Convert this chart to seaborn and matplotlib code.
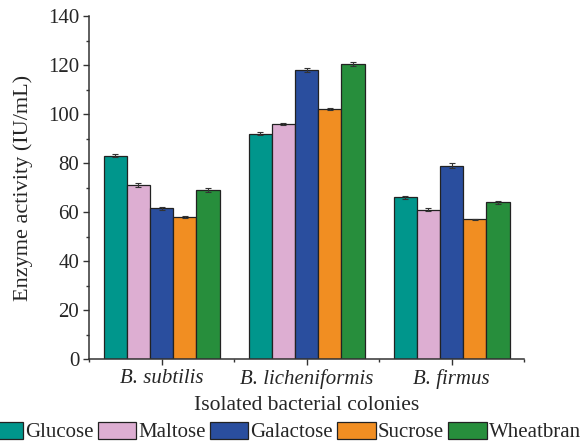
import matplotlib
matplotlib.use("Agg")
import matplotlib.pyplot as plt
import seaborn as sns
import pandas as pd
from matplotlib.ticker import MultipleLocator, FixedLocator
from matplotlib.patches import Patch

colonies = ["B. subtilis", "B. licheniformis", "B. firmus"]
sources = ["Glucose", "Maltose", "Galactose", "Sucrose", "Wheatbran"]
glucose = [83, 92, 66]
maltose = [71, 96, 61]
galactose = [61.5, 118, 79]
sucrose = [58, 102, 57]
wheatbran = [69, 120.5, 64]
err_glucose = [0.6, 0.5, 0.6]
err_maltose = [0.8, 0.5, 0.5]
err_galactose = [0.5, 0.8, 0.9]
err_sucrose = [0.6, 0.5, 0.3]
err_wheatbran = [0.9, 0.8, 0.6]
colors = ["#00968c", "#ddaed2", "#2a4e9e", "#f18e22", "#278e3c"]

vals = [glucose, maltose, galactose, sucrose, wheatbran]
errs = [err_glucose, err_maltose, err_galactose, err_sucrose, err_wheatbran]
rows = []
for s, v, e in zip(sources, vals, errs):
    for c, vi, ei in zip(colonies, v, e):
        rows.append({"colony": c, "source": s, "value": vi, "err": ei})
df = pd.DataFrame(rows)

sns.set_style("ticks")
plt.rcParams["font.family"] = ["Liberation Serif", "DejaVu Serif"]

fig = plt.figure(figsize=(5.81, 4.45), dpi=100)
ax = fig.add_axes([0.1532, 0.193, 0.7487, 0.771])
sns.barplot(data=df, x="colony", y="value", hue="source", order=colonies,
            hue_order=sources, palette=colors, errorbar=None, width=0.8,
            edgecolor="#222222", linewidth=0.9, saturation=1, ax=ax, legend=False)

# error bars at bar centers
for i, s in enumerate(sources):
    cont = ax.containers[i]
    for j, bar in enumerate(cont):
        x = bar.get_x() + bar.get_width() / 2
        ax.errorbar(x, bar.get_height(), yerr=errs[i][j], fmt="none",
                    ecolor="#333333", elinewidth=0.8, capsize=2.5, capthick=0.8)

ax.set_ylim(0, 140)
ax.set_xlim(-0.5, 2.5)
ax.yaxis.set_major_locator(MultipleLocator(20))
ax.yaxis.set_minor_locator(MultipleLocator(10))
ax.set_xticks([0, 1, 2])
ax.set_xticklabels(colonies, fontstyle="italic", fontsize=14.5)
ax.xaxis.set_minor_locator(FixedLocator([-0.5, 0.5, 1.5, 2.5]))
ax.tick_params(axis="both", which="major", labelsize=15, direction="out",
               color="#333333", length=4, width=1, pad=3)
ax.tick_params(axis="both", which="minor", length=2.5, width=1, color="#333333")
for sp in ["left", "bottom"]:
    ax.spines[sp].set_color("#333333")
    ax.spines[sp].set_linewidth(1.1)
sns.despine(ax=ax)
ax.set_ylabel("Enzyme activity (IU/mL)", fontsize=16, labelpad=11)
ax.set_xlabel("Isolated bacterial colonies", fontsize=15.5, labelpad=5)

handles = [Patch(facecolor=c, edgecolor="#222222", linewidth=0.9) for c in colors]
fig.legend(handles, sources, loc="center right", bbox_to_anchor=(1.0, 1 - 432 / 445),
           ncol=5, frameon=False, fontsize=15, handlelength=1.85, handleheight=0.9,
           handletextpad=0.1, columnspacing=0.2, borderaxespad=0, borderpad=0)

fig.savefig("out.png", dpi=100)
